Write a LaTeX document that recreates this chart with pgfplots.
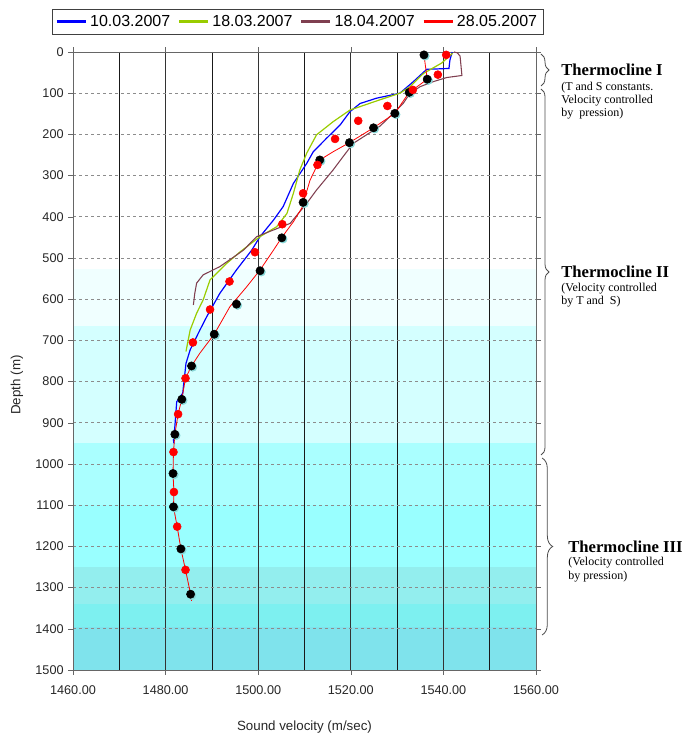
\documentclass[border=0pt]{standalone}
\usepackage{fontspec}
\setmainfont{Liberation Sans}
\newfontfamily\serifT{Liberation Serif}
\usepackage{pgfplots}
\pgfplotsset{compat=1.18}
\usetikzlibrary{decorations.pathreplacing}
\definecolor{cblue}{HTML}{0000FF}
\definecolor{cgreen}{HTML}{99CC00}
\definecolor{cbrown}{HTML}{7F3F50}
\definecolor{cred}{HTML}{FF0000}
\definecolor{shad}{HTML}{88D8D8}
\definecolor{b1}{HTML}{F0FFFF}
\definecolor{b2}{HTML}{D4FFFF}
\definecolor{b3}{HTML}{AAFFFF}
\definecolor{b4}{HTML}{99FFFF}
\definecolor{b5}{HTML}{93EEEE}
\definecolor{b6}{HTML}{7DF0F0}
\definecolor{b7}{HTML}{7FE3EC}
\begin{document}
\begin{tikzpicture}
\useasboundingbox (0pt,0pt) rectangle (522pt,553.5pt);
% background bands (depth ranges), drawn beneath the axis
\begin{scope}[shift={(0pt,553.5pt)}, x=0.75pt, y=-0.75pt]
\fill[b1] (73,{52+527*0.412}) rectangle (536,{52+665*0.412});
\fill[b2] (73,{52+665*0.412}) rectangle (536,{52+948*0.412});
\fill[b3] (73,{52+948*0.412}) rectangle (536,{52+1100*0.412});
\fill[b4] (73,{52+1100*0.412}) rectangle (536,{52+1250*0.412});
\fill[b5] (73,{52+1250*0.412}) rectangle (536,{52+1340*0.412});
\fill[b6] (73,{52+1340*0.412}) rectangle (536,{52+1395*0.412});
\fill[b7] (73,{52+1395*0.412}) rectangle (536,670);
\end{scope}
\begin{axis}[
  at={(54.75pt,51pt)}, anchor=south west,
  scale only axis, width=347.25pt, height=463.5pt,
  xmin=1460, xmax=1560, ymin=0, ymax=1500, y dir=reverse,
  xtick={1460,1480,...,1560}, minor xtick={1470,1490,...,1550},
  ytick={0,100,...,1500},
  /pgf/number format/assume math mode=true,
  /pgf/number format/1000 sep={},
  xticklabel style={/pgf/number format/fixed, /pgf/number format/fixed zerofill, /pgf/number format/precision=2, yshift=-5pt},
  tick label style={font=\fontsize{9.5}{11}\selectfont, text=black!85},
  tick align=outside, major tick length=3.5pt, minor tick length=0pt,
  tick style={black!60},
  axis line style={black!60},
  xmajorgrids, xminorgrids, ymajorgrids,
  major x grid style={black!80, line width=0.6pt},
  minor x grid style={black!90, line width=0.5pt},
  major y grid style={black!45, dash pattern=on 2.5pt off 2pt, line width=0.6pt},
  legend columns=4,
  legend style={at={(0.4849,1.0494)}, anchor=center, draw=black!75, fill=white,
    font=\fontsize{12}{14}\selectfont, inner xsep=2.5pt, inner ysep=2.5pt,
    /tikz/every even column/.append style={column sep=3.5pt}},
  legend image code/.code={\draw[#1, line width=2.4pt] (0pt,0pt) -- (21.75pt,0pt);},
]
% 10.03.2007
\addplot[cblue, line width=0.9pt] coordinates {
(1541.9,0) (1541.4,20) (1541.2,40) (1536.4,42) (1533.5,72) (1530.6,100)
(1525.6,112) (1522.0,125) (1519.8,145) (1517.7,177) (1514.8,209) (1511.9,242)
(1510.5,270) (1507.6,319) (1505.4,375) (1503.3,408) (1500.4,448) (1498.6,481)
(1495.3,529) (1491.7,586) (1488.9,642) (1487.4,675) (1485.3,723) (1484.4,756)
(1483.7,828) (1482.4,849) (1482.0,909) (1481.7,942) (1481.8,950)
};
\addlegendentry{10.03.2007}
% 18.03.2007
\addplot[cgreen, line width=0.9pt] coordinates {
(1542.0,3) (1539.6,27) (1535.7,52) (1532.8,84) (1530.6,100) (1526.3,116)
(1519.8,141) (1516.2,169) (1512.6,201) (1510.5,245) (1509.0,286) (1507.6,343)
(1506.2,392) (1504.0,424) (1500.4,448) (1496.1,485) (1493.2,513) (1489.6,553)
(1488.1,602) (1486.7,634) (1485.3,675) (1484.4,727)
};
\addlegendentry{18.03.2007}
% 18.04.2007
\addplot[cbrown, line width=0.8pt] coordinates {
(1542.3,0) (1543.0,2) (1543.6,10) (1544.0,57) (1540.7,62) (1537.8,72)
(1535.0,84) (1532.8,100) (1531.3,125) (1529.9,141) (1526.3,180) (1523.4,201)
(1520.5,222) (1518.6,250) (1516.2,286) (1512.6,335) (1510.5,367) (1506.9,416)
(1503.3,432) (1499.7,448) (1496.8,481) (1495.3,493) (1491.7,521) (1488.1,541)
(1486.7,561) (1486.3,586) (1486.0,614)
};
\addlegendentry{18.04.2007}
% 28.05.2007
\addplot[cred, line width=0.6pt] coordinates {
(1535.8,7) (1536.5,66) (1533.4,92) (1532.6,98) (1529.5,149) (1524.9,184)
(1519.7,220) (1516.2,242) (1513.3,262) (1511.2,311) (1509.4,379) (1507.6,412)
(1505.1,450) (1503.3,481) (1500.4,529) (1497.5,570) (1493.9,618) (1490.5,685)
(1487.4,731) (1485.6,762) (1484.3,792) (1483.5,843) (1482.7,879) (1482.0,928)
(1481.7,971) (1481.6,1023) (1481.8,1068) (1481.7,1104) (1482.5,1152) (1483.3,1206)
(1484.3,1257) (1485.4,1316) (1485.6,1332)
};
\addlegendentry{28.05.2007}

% black points: shadow then dots
\addplot[forget plot, only marks, mark=*, mark size=3.1pt, color=shad,
  mark options={draw=none, fill=shad, xshift=0.9pt, yshift=-0.9pt}] coordinates {
(1535.8,7) (1536.5,66) (1532.6,98) (1529.5,149) (1524.9,184) (1519.7,220)
(1513.3,262) (1509.7,365) (1505.1,451) (1500.4,531) (1495.3,612) (1490.5,685)
(1485.6,762) (1483.5,843) (1482.0,928) (1481.6,1023) (1481.7,1104) (1483.3,1206)
(1485.4,1316)
};
\addplot[forget plot, only marks, mark=*, mark size=3.1pt, color=black,
  mark options={draw=none, fill=black}] coordinates {
(1535.8,7) (1536.5,66) (1532.6,98) (1529.5,149) (1524.9,184) (1519.7,220)
(1513.3,262) (1509.7,365) (1505.1,451) (1500.4,531) (1495.3,612) (1490.5,685)
(1485.6,762) (1483.5,843) (1482.0,928) (1481.6,1023) (1481.7,1104) (1483.3,1206)
(1485.4,1316)
};
% red points
\addplot[forget plot, only marks, mark=*, mark size=3pt, color=cred,
  mark options={draw=none, fill=cred}] coordinates {
(1540.6,7) (1538.8,55) (1533.4,92) (1527.9,131) (1521.6,167) (1516.6,211)
(1512.8,274) (1509.7,343) (1505.2,418) (1499.3,486) (1493.8,557) (1489.6,625)
(1485.9,705) (1484.3,792) (1482.7,879) (1481.7,971) (1481.8,1068) (1482.5,1152)
(1484.3,1257)
};
\end{axis}

\begin{scope}[shift={(0pt,553.5pt)}, x=0.75pt, y=-0.75pt]
% axis titles
\node[font=\fontsize{10}{12}\selectfont, text=black!85] at (304.5,727) {Sound velocity (m/sec)};
\node[font=\fontsize{10}{12}\selectfont, text=black!85, rotate=90] at (17,385) {Depth (m)};

% braces and annotations
\draw[black!70, line width=0.6pt, decorate, decoration={brace, amplitude=6pt}] (541,54) -- (541,86);
\draw[black!70, line width=0.6pt, decorate, decoration={brace, amplitude=6pt}] (541,89) -- (541,455);
\draw[black!70, line width=0.6pt, decorate, decoration={brace, amplitude=8pt}] (542,458) -- (542,635);

\node[anchor=west, inner sep=0pt, font=\serifT\bfseries\fontsize{12.5}{14}\selectfont] at (561,70) {Thermocline I};
\node[anchor=west, inner sep=0pt, font=\serifT\fontsize{9}{10}\selectfont] at (561,88) {(T and S constants.};
\node[anchor=west, inner sep=0pt, font=\serifT\fontsize{9}{10}\selectfont] at (561,101) {Velocity controlled};
\node[anchor=west, inner sep=0pt, font=\serifT\fontsize{9}{10}\selectfont] at (561,113.5) {by\ \ pression)};

\node[anchor=west, inner sep=0pt, font=\serifT\bfseries\fontsize{12.5}{14}\selectfont] at (561,272) {Thermocline II};
\node[anchor=west, inner sep=0pt, font=\serifT\fontsize{9}{10}\selectfont] at (561,289) {(Velocity controlled};
\node[anchor=west, inner sep=0pt, font=\serifT\fontsize{9}{10}\selectfont] at (561,302) {by T and\ \ S)};

\node[anchor=west, inner sep=0pt, font=\serifT\bfseries\fontsize{12.5}{14}\selectfont] at (568,547) {Thermocline III};
\node[anchor=west, inner sep=0pt, font=\serifT\fontsize{9}{10}\selectfont] at (568,563) {(Velocity controlled};
\node[anchor=west, inner sep=0pt, font=\serifT\fontsize{9}{10}\selectfont] at (568,577) {by pression)};
\end{scope}
\end{tikzpicture}
\end{document}
